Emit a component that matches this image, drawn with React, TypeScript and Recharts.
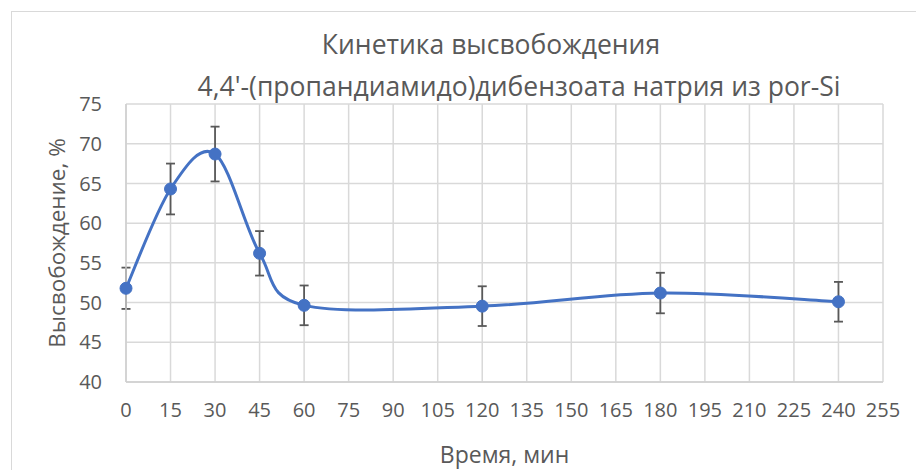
import React from 'react';
import { LineChart, Line, XAxis, YAxis, CartesianGrid, ErrorBar, Label } from 'recharts';

const timeMin = [0, 15, 30, 45, 60, 120, 180, 240];
const releasePct = [51.8, 64.3, 68.7, 56.2, 49.65, 49.55, 51.2, 50.1];
const releaseErr = [2.6, 3.2, 3.45, 2.8, 2.5, 2.5, 2.55, 2.5];

const xTicks = [0, 15, 30, 45, 60, 75, 90, 105, 120, 135, 150, 165, 180, 195, 210, 225, 240, 255];
const yTicks = [40, 45, 50, 55, 60, 65, 70, 75];

const titleLines = ['Кинетика высвобождения', "4,4'-(пропандиамидо)дибензоата натрия из por-Si"];

const chartData = timeMin.map((t, i) => ({ t, value: releasePct[i], err: releaseErr[i] }));

const FONT = '"Open Sans", "Noto Sans", sans-serif';
const TEXT = '#595959';

// Smoothed line in the spreadsheet style: cubic Bezier segments whose
// control points come from the neighbouring points (Catmull-Rom, tension 1/6).
const smoothCurve = (context: any) => {
  let pts: [number, number][] = [];
  return {
    areaStart() {},
    areaEnd() {},
    lineStart() {
      pts = [];
    },
    point(x: number, y: number) {
      pts.push([+x, +y]);
    },
    lineEnd() {
      if (!pts.length) return;
      context.moveTo(pts[0][0], pts[0][1]);
      for (let i = 0; i < pts.length - 1; i++) {
        const p0 = pts[i - 1] || pts[i];
        const p1 = pts[i];
        const p2 = pts[i + 1];
        const p3 = pts[i + 2] || p2;
        context.bezierCurveTo(
          p1[0] + (p2[0] - p0[0]) / 6,
          p1[1] + (p2[1] - p0[1]) / 6,
          p2[0] - (p3[0] - p1[0]) / 6,
          p2[1] - (p3[1] - p1[1]) / 6,
          p2[0],
          p2[1]
        );
      }
    },
  };
};

export default function App() {
  return (
    <div style={{ position: 'absolute', left: 0, top: 0, width: 916, height: 470, background: '#fff', overflow: 'hidden' }}>
      <div
        style={{
          position: 'absolute',
          left: 11,
          top: 11,
          width: 940,
          height: 500,
          border: '1px solid #d9d9d9',
        }}
      />
      <LineChart
        width={916}
        height={470}
        data={chartData}
        margin={{ top: 104, right: 33, bottom: 58, left: 0 }}
        style={{ position: 'absolute', left: 0, top: 0, fontFamily: FONT }}
      >
        <text x={491} y={54} textAnchor="middle" fill={TEXT} fontSize={26.5} fontFamily={FONT}>
          {titleLines[0]}
        </text>
        <text x={519} y={96} textAnchor="middle" fill={TEXT} fontSize={26.5} fontFamily={FONT}>
          {titleLines[1]}
        </text>
        <CartesianGrid stroke="#d9d9d9" strokeWidth={1.5} />
        <XAxis
          dataKey="t"
          type="number"
          domain={[0, 255]}
          ticks={xTicks}
          interval={0}
          height={30}
          tickSize={0}
          tickMargin={21}
          tickLine={false}
          axisLine={{ stroke: '#cfcfcf', strokeWidth: 1.5 }}
          tick={{ fill: TEXT, fontSize: 20, fontFamily: FONT }}
        >
          <Label value="Время, мин" position="bottom" offset={35} fill={TEXT} fontSize={23} fontFamily={FONT} />
        </XAxis>
        <YAxis
          type="number"
          domain={[40, 75]}
          ticks={yTicks}
          interval={0}
          width={126}
          tickSize={0}
          tickMargin={24}
          tickLine={false}
          axisLine={{ stroke: '#cfcfcf', strokeWidth: 1.5 }}
          tick={{ fill: TEXT, fontSize: 20, fontFamily: FONT }}
        >
          <Label
            value="Высвобождение, %"
            angle={-90}
            position="insideLeft"
            offset={57}
            style={{ textAnchor: 'middle' }}
            fill={TEXT}
            fontSize={22.5}
            fontFamily={FONT}
          />
        </YAxis>
        <Line
          dataKey="value"
          type={smoothCurve as any}
          stroke="#4472c4"
          strokeWidth={3}
          dot={{ r: 6, fill: '#4472c4', stroke: '#4472c4', strokeWidth: 1 }}
          isAnimationActive={false}
        >
          <ErrorBar dataKey="err" direction="y" width={4.5} stroke="#595959" strokeWidth={1.8} />
        </Line>
      </LineChart>
    </div>
  );
}
